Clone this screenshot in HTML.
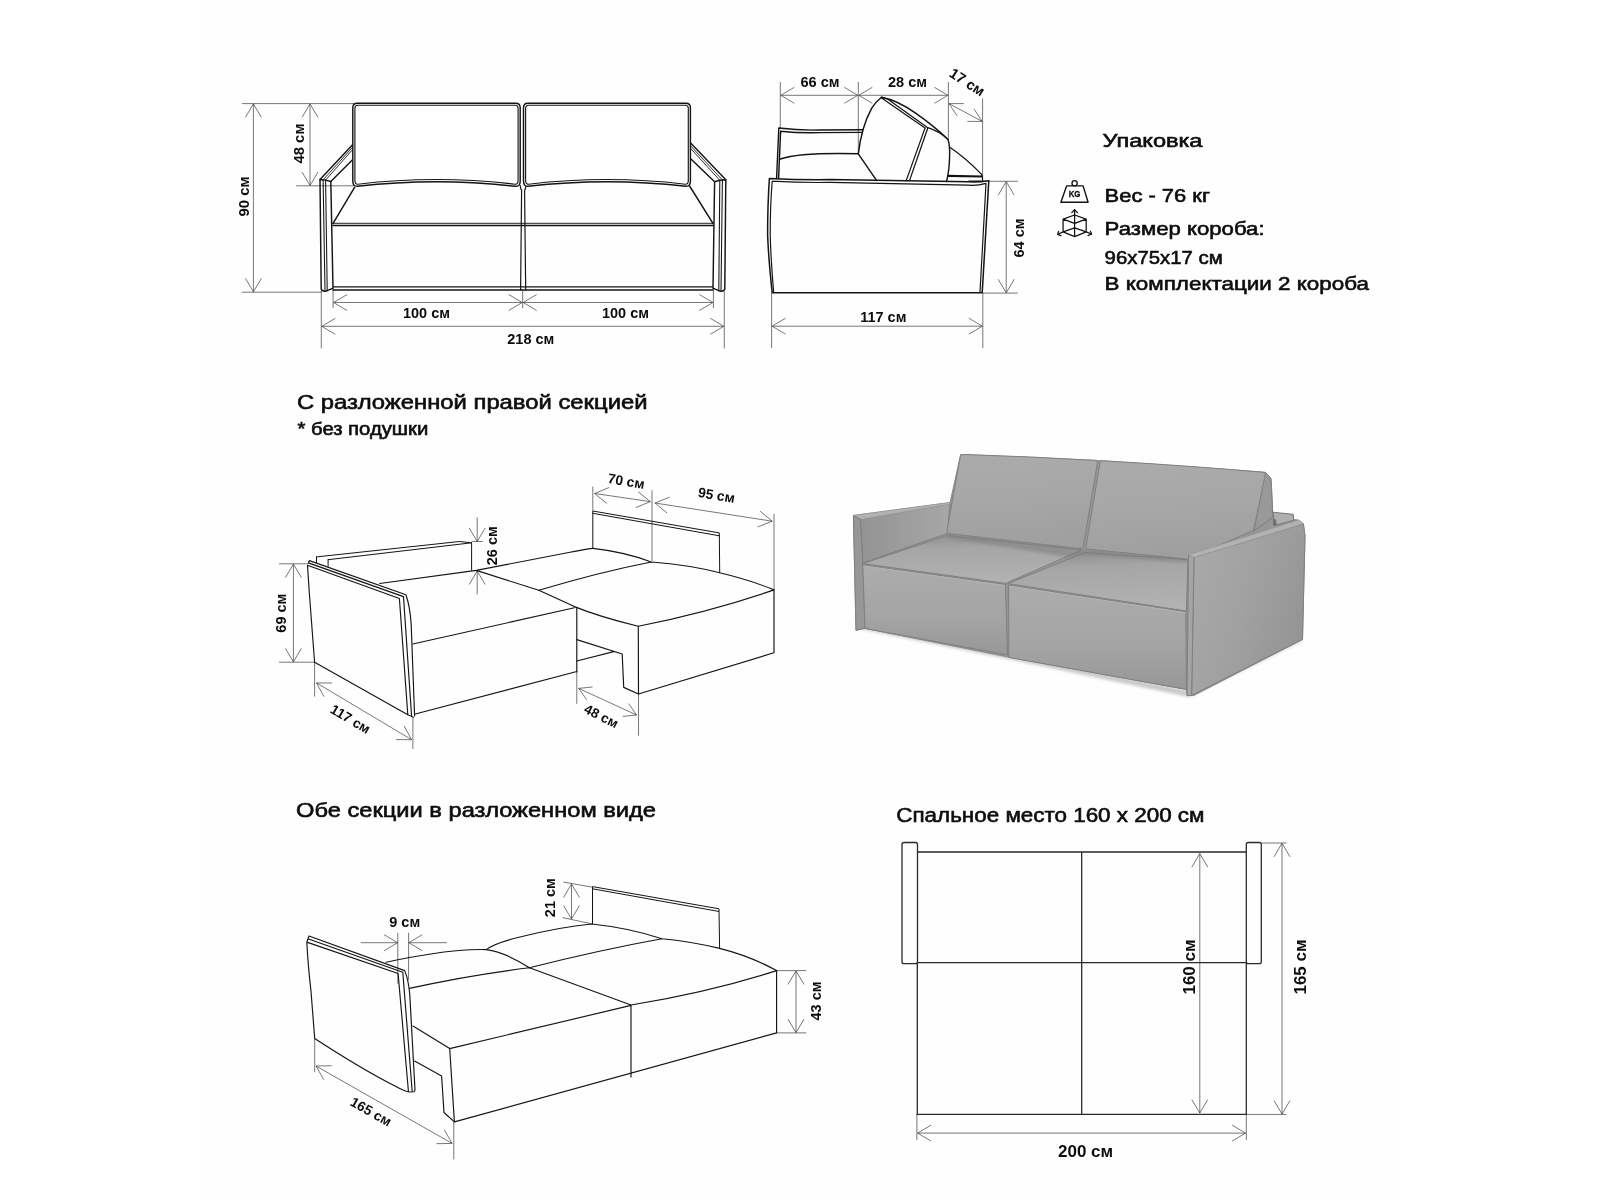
<!DOCTYPE html>
<html><head><meta charset="utf-8"><title>Sofa dimensions</title>
<style>
html,body{margin:0;padding:0;background:#fff;}
body{width:1600px;height:1200px;overflow:hidden;}
svg{display:block;opacity:0.999;will-change:transform;}
text{font-family:"Liberation Sans",sans-serif;fill:#0d0d0d;}
</style></head><body>
<svg width="1600" height="1200" viewBox="0 0 1600 1200">
<rect width="1600" height="1200" fill="#ffffff"/>
<rect x="200" width="1200" height="1200" fill="#fefefe"/>
<g id="front">
<line x1="242" y1="103.6" x2="354" y2="103.6" stroke="#3d3d3d" stroke-width="0.7"/>
<line x1="241.6" y1="292.2" x2="322" y2="292.2" stroke="#3d3d3d" stroke-width="0.7"/>
<line x1="253.4" y1="103.9" x2="253.4" y2="291.8" stroke="#3d3d3d" stroke-width="0.7"/>
<polyline points="245.4,117.4 253.4,103.9 261.4,117.4" fill="none" stroke="#3d3d3d" stroke-width="0.7"/>
<polyline points="261.4,278.3 253.4,291.8 245.4,278.3" fill="none" stroke="#3d3d3d" stroke-width="0.7"/>
<line x1="296" y1="185.8" x2="354" y2="185.8" stroke="#3d3d3d" stroke-width="0.7"/>
<line x1="310" y1="103.9" x2="310" y2="185.5" stroke="#3d3d3d" stroke-width="0.7"/>
<polyline points="302.0,117.4 310.0,103.9 318.0,117.4" fill="none" stroke="#3d3d3d" stroke-width="0.7"/>
<polyline points="318.0,172.0 310.0,185.5 302.0,172.0" fill="none" stroke="#3d3d3d" stroke-width="0.7"/>
<line x1="321.3" y1="291" x2="321.3" y2="348.4" stroke="#3d3d3d" stroke-width="0.7"/>
<line x1="724.3" y1="291" x2="724.3" y2="348.4" stroke="#3d3d3d" stroke-width="0.7"/>
<line x1="333.1" y1="289.5" x2="333.1" y2="308" stroke="#3d3d3d" stroke-width="0.7"/>
<line x1="522.7" y1="289.5" x2="522.7" y2="308" stroke="#3d3d3d" stroke-width="0.7"/>
<line x1="713.4" y1="289.5" x2="713.4" y2="308" stroke="#3d3d3d" stroke-width="0.7"/>
<line x1="333.6" y1="302.5" x2="522.2" y2="302.5" stroke="#3d3d3d" stroke-width="0.7"/>
<polyline points="347.1,310.5 333.6,302.5 347.1,294.5" fill="none" stroke="#3d3d3d" stroke-width="0.7"/>
<polyline points="508.7,294.5 522.2,302.5 508.7,310.5" fill="none" stroke="#3d3d3d" stroke-width="0.7"/>
<line x1="523.2" y1="302.5" x2="712.9" y2="302.5" stroke="#3d3d3d" stroke-width="0.7"/>
<polyline points="536.7,310.5 523.2,302.5 536.7,294.5" fill="none" stroke="#3d3d3d" stroke-width="0.7"/>
<polyline points="699.4,294.5 712.9,302.5 699.4,310.5" fill="none" stroke="#3d3d3d" stroke-width="0.7"/>
<line x1="321.8" y1="326.3" x2="723.8" y2="326.3" stroke="#3d3d3d" stroke-width="0.7"/>
<polyline points="335.3,334.3 321.8,326.3 335.3,318.3" fill="none" stroke="#3d3d3d" stroke-width="0.7"/>
<polyline points="710.3,318.3 723.8,326.3 710.3,334.3" fill="none" stroke="#3d3d3d" stroke-width="0.7"/>
<text x="244" y="196.5" font-size="14.9" font-weight="bold" text-anchor="middle" transform="rotate(-90 244 196.5)" dy="5">90 см</text>
<text x="298.6" y="143.6" font-size="14.9" font-weight="bold" text-anchor="middle" transform="rotate(-90 298.6 143.6)" dy="5">48 см</text>
<text x="426.5" y="317.5" font-size="14.5" font-weight="bold" text-anchor="middle" >100 см</text>
<text x="625.5" y="317.5" font-size="14.5" font-weight="bold" text-anchor="middle" >100 см</text>
<text x="530.8" y="343.7" font-size="14.5" font-weight="bold" text-anchor="middle" >218 см</text>
<path d="M320,179.5 L352.8,144.6 M330.8,181.5 L352.8,159.4" stroke="#141414" stroke-width="1.45" fill="none" stroke-linejoin="round" stroke-linecap="round" />
<path d="M323.1,179.8 L352.8,147 M325.6,180.1 L352.8,149.4" stroke="#141414" stroke-width="0.875" fill="none" stroke-linejoin="round" stroke-linecap="round" />
<path d="M320,179.5 L325.6,180.1 L330.8,181.5 M320,179.5 L321.2,289 Q322,291.6 326,291.2 L332.6,288.4 M330.8,181.5 L333,288.4" stroke="#141414" stroke-width="1.45" fill="none" stroke-linejoin="round" stroke-linecap="round" />
<path d="M323.1,179.8 L325,290.8 M325.6,180.1 L327.2,290.8" stroke="#141414" stroke-width="1.0625" fill="none" stroke-linejoin="round" stroke-linecap="round" />
<path d="M725.8,179.8 L690.4,142.8 M714.6,181.8 L690.4,158.6" stroke="#141414" stroke-width="1.45" fill="none" stroke-linejoin="round" stroke-linecap="round" />
<path d="M722.4,180 L690.4,145.6 M719.8,180.3 L690.4,148.2" stroke="#141414" stroke-width="0.875" fill="none" stroke-linejoin="round" stroke-linecap="round" />
<path d="M725.8,179.8 L719.8,180.3 L714.6,181.8 M725.8,179.8 L724.8,289 Q724,291.6 720,291.2 L713.4,288.4 M714.6,181.8 L713,288.4" stroke="#141414" stroke-width="1.45" fill="none" stroke-linejoin="round" stroke-linecap="round" />
<path d="M722.4,180 L721,290.8 M719.8,180.3 L718.8,290.8" stroke="#141414" stroke-width="1.0625" fill="none" stroke-linejoin="round" stroke-linecap="round" />
<path d="M354.6,187.4 L332.9,223.6 M689.6,186 L713.1,223.6" stroke="#141414" stroke-width="1.45" fill="none" stroke-linejoin="round" stroke-linecap="round" />
<path d="M332.9,223.3 H713.1" stroke="#141414" stroke-width="0.9375" fill="none" stroke-linejoin="round" stroke-linecap="round" />
<path d="M332.9,225.5 H713.1" stroke="#141414" stroke-width="1.3125" fill="none" stroke-linejoin="round" stroke-linecap="round" />
<path d="M333,286.8 H713" stroke="#141414" stroke-width="1.1875" fill="none" stroke-linejoin="round" stroke-linecap="round" />
<path d="M333,290 H713" stroke="#141414" stroke-width="1.3125" fill="none" stroke-linejoin="round" stroke-linecap="round" />
<path d="M520.2,185.6 Q520.6,188.6 521.6,190.6 L521.2,230 L520.6,290 M526,185.6 Q525.6,188.6 524.6,190.6 L525,230 L525.7,290" stroke="#141414" stroke-width="1.1875" fill="none" stroke-linejoin="round" stroke-linecap="round" />
<path d="M357.3,103.2 H515.7 Q520.2,103.2 520.2,107.7 V181.1 Q520.2,186.6 515.7,186.29999999999998 Q436.5,177.0 357.3,186.29999999999998 Q352.8,186.6 352.8,181.1 V107.7 Q352.8,103.2 357.3,103.2 Z" stroke="#141414" stroke-width="1.45" fill="#fff" stroke-linejoin="round" stroke-linecap="round" />
<path d="M357.90000000000003,105.3 H515.1 Q518.1,105.3 518.1,108.3 V180.5 Q518.1,184.5 515.1,184.2 Q436.5,174.9 357.90000000000003,184.2 Q354.90000000000003,184.5 354.90000000000003,180.5 V108.3 Q354.90000000000003,105.3 357.90000000000003,105.3 Z" stroke="#141414" stroke-width="1.125" fill="none" stroke-linejoin="round" stroke-linecap="round" />
<path d="M528.0,103.2 H685.9 Q690.4,103.2 690.4,107.7 V181.1 Q690.4,186.6 685.9,186.29999999999998 Q606.95,177.0 528.0,186.29999999999998 Q523.5,186.6 523.5,181.1 V107.7 Q523.5,103.2 528.0,103.2 Z" stroke="#141414" stroke-width="1.45" fill="#fff" stroke-linejoin="round" stroke-linecap="round" />
<path d="M528.6,105.3 H685.3 Q688.3,105.3 688.3,108.3 V180.5 Q688.3,184.5 685.3,184.2 Q606.95,174.9 528.6,184.2 Q525.6,184.5 525.6,180.5 V108.3 Q525.6,105.3 528.6,105.3 Z" stroke="#141414" stroke-width="1.125" fill="none" stroke-linejoin="round" stroke-linecap="round" />
</g>
<g id="side">
<line x1="780.3" y1="82" x2="780.3" y2="128.4" stroke="#3d3d3d" stroke-width="0.7"/>
<line x1="858.3" y1="82" x2="858.3" y2="153.8" stroke="#3d3d3d" stroke-width="0.7"/>
<line x1="948.4" y1="82" x2="948.4" y2="138.8" stroke="#3d3d3d" stroke-width="0.7"/>
<line x1="982.6" y1="98.4" x2="982.6" y2="175.3" stroke="#3d3d3d" stroke-width="0.7"/>
<line x1="780.8" y1="95.3" x2="857.8" y2="95.3" stroke="#3d3d3d" stroke-width="0.7"/>
<polyline points="794.3,103.3 780.8,95.3 794.3,87.3" fill="none" stroke="#3d3d3d" stroke-width="0.7"/>
<polyline points="844.3,87.3 857.8,95.3 844.3,103.3" fill="none" stroke="#3d3d3d" stroke-width="0.7"/>
<line x1="858.8" y1="95.3" x2="947.9" y2="95.3" stroke="#3d3d3d" stroke-width="0.7"/>
<polyline points="872.3,103.3 858.8,95.3 872.3,87.3" fill="none" stroke="#3d3d3d" stroke-width="0.7"/>
<polyline points="934.4,87.3 947.9,95.3 934.4,103.3" fill="none" stroke="#3d3d3d" stroke-width="0.7"/>
<line x1="949" y1="103.6" x2="982.2" y2="121.4" stroke="#3d3d3d" stroke-width="0.7"/>
<polyline points="957.1,115.9 949.0,103.6 963.8,103.6" fill="none" stroke="#3d3d3d" stroke-width="0.7"/>
<polyline points="974.1,109.1 982.2,121.4 967.4,121.4" fill="none" stroke="#3d3d3d" stroke-width="0.7"/>
<text x="820" y="86.6" font-size="14.5" font-weight="bold" text-anchor="middle" >66 см</text>
<text x="907.5" y="86.6" font-size="14.5" font-weight="bold" text-anchor="middle" >28 см</text>
<text x="967.2" y="82.1" font-size="14.5" font-weight="bold" text-anchor="middle" transform="rotate(33 967.2 82.1)" dy="5">17 см</text>
<line x1="989" y1="181.3" x2="1017.8" y2="181.3" stroke="#3d3d3d" stroke-width="0.7"/>
<line x1="982.4" y1="293.1" x2="1017.8" y2="293.1" stroke="#3d3d3d" stroke-width="0.7"/>
<line x1="1006.2" y1="181.6" x2="1006.2" y2="292.8" stroke="#3d3d3d" stroke-width="0.7"/>
<polyline points="998.2,195.1 1006.2,181.6 1014.2,195.1" fill="none" stroke="#3d3d3d" stroke-width="0.7"/>
<polyline points="1014.2,279.3 1006.2,292.8 998.2,279.3" fill="none" stroke="#3d3d3d" stroke-width="0.7"/>
<text x="1018.8" y="238" font-size="14.5" font-weight="bold" text-anchor="middle" transform="rotate(-90 1018.8 238)" dy="5">64 см</text>
<line x1="771.6" y1="292.8" x2="771.6" y2="348.1" stroke="#3d3d3d" stroke-width="0.7"/>
<line x1="982.8" y1="292.8" x2="982.8" y2="348.1" stroke="#3d3d3d" stroke-width="0.7"/>
<line x1="772.1" y1="326.2" x2="982.3" y2="326.2" stroke="#3d3d3d" stroke-width="0.7"/>
<polyline points="785.6,334.2 772.1,326.2 785.6,318.2" fill="none" stroke="#3d3d3d" stroke-width="0.7"/>
<polyline points="968.8,318.2 982.3,326.2 968.8,334.2" fill="none" stroke="#3d3d3d" stroke-width="0.7"/>
<text x="883.3" y="322.2" font-size="14.5" font-weight="bold" text-anchor="middle" >117 см</text>
<path d="M776.6,178.2 L778.8,128 Q800,130.6 820,130 L862.6,129.8 M780.6,131.2 Q800,133.2 820,132.6 L861.8,132.4 M780.6,131.2 L778.6,178 M780.4,159 Q800,152.4 858.3,153.8" stroke="#141414" stroke-width="1.45" fill="none" stroke-linejoin="round" stroke-linecap="round" />
<path d="M858.3,153.8 Q861.5,127 871.6,108.4 Q876,101.5 881.4,97.2 Q897,100 915.6,113.1 Q934,126 948,139.4 Q950,146 949.6,156 Q949.4,170 946.6,181.4 M858.3,153.8 L876.7,180.6" stroke="#141414" stroke-width="1.45" fill="none" stroke-linejoin="round" stroke-linecap="round" />
<path d="M881.4,97.2 L887.5,99 L927.8,127.7 Q940,131.6 948,139.4 M881.6,98 L925,128.1" stroke="#141414" stroke-width="1.25" fill="none" stroke-linejoin="round" stroke-linecap="round" />
<path d="M927.8,128 L909.5,180.6 M925,128.1 L906.2,180.6" stroke="#141414" stroke-width="1.25" fill="none" stroke-linejoin="round" stroke-linecap="round" />
<path d="M949.4,146.9 Q966,158 981.6,174.4 L982.4,176 L982.6,180.6 M948,175.4 L982.2,176.2 M948,176.4 L982.2,177 M969,181.2 H981" stroke="#141414" stroke-width="1.25" fill="none" stroke-linejoin="round" stroke-linecap="round" />
<path d="M769.4,178.4 Q800,180 830,179.6 L968,181.8 Q978,182.4 988.8,180.8 L982.2,292.8 H772.2 Q768.6,260 767.6,235 Q767.6,205 769.4,178.4 Z" stroke="#141414" stroke-width="1.5" fill="none" stroke-linejoin="round" stroke-linecap="round" />
<path d="M772.2,181.2 Q800,182.8 830,182.4 L968,185.2 Q978,185.8 986,183.4 L980,292 M772.2,181.2 Q770.2,205 770.2,235 Q771,262 773.6,291.6" stroke="#141414" stroke-width="1.1875" fill="none" stroke-linejoin="round" stroke-linecap="round" />
</g>
<g id="pack" font-weight="normal">
<text x="1102.5" y="146.7" font-size="19" textLength="100" lengthAdjust="spacingAndGlyphs" stroke="#0d0d0d" stroke-width="0.6">Упаковка</text>
<text x="1104.6" y="201.8" font-size="19" textLength="105.3" lengthAdjust="spacingAndGlyphs" stroke="#0d0d0d" stroke-width="0.6">Вес - 76 кг</text>
<text x="1104.6" y="234.9" font-size="19" textLength="160" lengthAdjust="spacingAndGlyphs" stroke="#0d0d0d" stroke-width="0.6">Размер короба:</text>
<text x="1104.6" y="264.1" font-size="19" textLength="118.1" lengthAdjust="spacingAndGlyphs" stroke="#0d0d0d" stroke-width="0.6">96х75х17 см</text>
<text x="1104.6" y="290" font-size="19" textLength="264.4" lengthAdjust="spacingAndGlyphs" stroke="#0d0d0d" stroke-width="0.6">В комплектации 2 короба</text>
<path d="M1066.6,185.9 H1083.1 L1088.1,202.2 H1060.9 Z" stroke="#111" stroke-width="1.4" fill="none" stroke-linejoin="round" stroke-linecap="round" />
<circle cx="1074.6" cy="183.2" r="2.6" fill="#fff" stroke="#111" stroke-width="1.3"/>
<text x="1074.6" y="197.4" font-size="8.8" font-weight="bold" text-anchor="middle" textLength="11.8" lengthAdjust="spacingAndGlyphs" stroke="#0d0d0d" stroke-width="0.3">KG</text>
<path d="M1074.6,215 L1086.2,219.1 L1074.6,223.4 L1063.1,219.1 Z M1063.1,219.1 V231.9 L1074.6,236.6 L1086.2,231.9 V219.1 M1074.6,210 V236.6 M1063.1,231.9 L1074.6,227.8 L1086.2,231.9 M1063.1,231.9 L1057.8,234.3 M1086.2,231.9 L1091.4,234" stroke="#111" stroke-width="1.25" fill="none" stroke-linejoin="round" stroke-linecap="round" />
<path d="M1071.8,212.6 L1074.6,209.6 L1077.4,212.6 M1058.6,231.4 L1057.6,234.4 L1061,235.6 M1090.4,231.2 L1091.6,234 L1088,235.6" stroke="#111" stroke-width="1.25" fill="none" stroke-linejoin="round" stroke-linecap="round" />
</g>
<text x="297" y="409.3" font-size="20.1" textLength="350.5" lengthAdjust="spacingAndGlyphs" stroke="#0d0d0d" stroke-width="0.6">С разложенной правой секцией</text>
<text x="297.5" y="435" font-size="17.5" textLength="130.8" lengthAdjust="spacingAndGlyphs" stroke="#0d0d0d" stroke-width="0.6">* без подушки</text>
<text x="296" y="817.2" font-size="20.2" textLength="360" lengthAdjust="spacingAndGlyphs" stroke="#0d0d0d" stroke-width="0.6">Обе секции в разложенном виде</text>
<text x="896.3" y="821.8" font-size="20" textLength="308.2" lengthAdjust="spacingAndGlyphs" stroke="#0d0d0d" stroke-width="0.6">Спальное место 160 х 200 см</text>
<g id="mid">
<line x1="279" y1="563.8" x2="308.4" y2="563.8" stroke="#3d3d3d" stroke-width="0.7"/>
<line x1="279" y1="662.2" x2="315" y2="662.2" stroke="#3d3d3d" stroke-width="0.7"/>
<line x1="293.4" y1="564.1" x2="293.4" y2="661.9" stroke="#3d3d3d" stroke-width="0.7"/>
<polyline points="285.4,577.6 293.4,564.1 301.4,577.6" fill="none" stroke="#3d3d3d" stroke-width="0.7"/>
<polyline points="301.4,648.4 293.4,661.9 285.4,648.4" fill="none" stroke="#3d3d3d" stroke-width="0.7"/>
<text x="281.3" y="613.2" font-size="14.5" font-weight="bold" text-anchor="middle" transform="rotate(-90 281.3 613.2)" dy="5">69 см</text>
<line x1="477.2" y1="517.5" x2="477.2" y2="541.3" stroke="#3d3d3d" stroke-width="0.7"/>
<polyline points="485.2,528.0 477.2,541.5 469.2,528.0" fill="none" stroke="#3d3d3d" stroke-width="0.7"/>
<line x1="471.6" y1="541.5" x2="482.8" y2="541.5" stroke="#3d3d3d" stroke-width="0.7"/>
<line x1="477.2" y1="571.2" x2="477.2" y2="594.4" stroke="#3d3d3d" stroke-width="0.7"/>
<polyline points="469.2,584.5 477.2,571.0 485.2,584.5" fill="none" stroke="#3d3d3d" stroke-width="0.7"/>
<text x="492.2" y="545.8" font-size="14.5" font-weight="bold" text-anchor="middle" transform="rotate(-90 492.2 545.8)" dy="5">26 см</text>
<line x1="592.8" y1="486.6" x2="592.8" y2="511" stroke="#3d3d3d" stroke-width="0.7"/>
<line x1="652" y1="490.3" x2="652" y2="561.6" stroke="#3d3d3d" stroke-width="0.7"/>
<line x1="774" y1="513.8" x2="774" y2="590" stroke="#3d3d3d" stroke-width="0.7"/>
<line x1="594.6" y1="493.5" x2="650.3" y2="501.6" stroke="#3d3d3d" stroke-width="0.7"/>
<polyline points="606.8,503.4 594.6,493.5 609.1,487.5" fill="none" stroke="#3d3d3d" stroke-width="0.7"/>
<polyline points="638.1,491.7 650.3,501.6 635.8,507.6" fill="none" stroke="#3d3d3d" stroke-width="0.7"/>
<line x1="655" y1="503" x2="772.2" y2="521.2" stroke="#3d3d3d" stroke-width="0.7"/>
<polyline points="667.1,513.0 655.0,503.0 669.6,497.2" fill="none" stroke="#3d3d3d" stroke-width="0.7"/>
<polyline points="760.1,511.2 772.2,521.2 757.6,527.0" fill="none" stroke="#3d3d3d" stroke-width="0.7"/>
<text x="626.3" y="481" font-size="13.8" font-weight="bold" text-anchor="middle" transform="rotate(9.5 626.3 481)" dy="5">70 см</text>
<text x="716.5" y="495" font-size="13.8" font-weight="bold" text-anchor="middle" transform="rotate(9.5 716.5 495)" dy="5">95 см</text>
<line x1="314.6" y1="662.2" x2="314.6" y2="696.6" stroke="#3d3d3d" stroke-width="0.7"/>
<line x1="412.9" y1="717" x2="412.9" y2="749" stroke="#3d3d3d" stroke-width="0.7"/>
<line x1="316.5" y1="682.9" x2="411.6" y2="739.7" stroke="#3d3d3d" stroke-width="0.7"/>
<polyline points="324.0,696.7 316.5,682.9 332.2,683.0" fill="none" stroke="#3d3d3d" stroke-width="0.7"/>
<polyline points="404.1,725.9 411.6,739.7 395.9,739.6" fill="none" stroke="#3d3d3d" stroke-width="0.7"/>
<text x="350.5" y="719" font-size="13.7" font-weight="bold" text-anchor="middle" transform="rotate(30.8 350.5 719)" dy="4.8">117 см</text>
<line x1="576.8" y1="672" x2="576.8" y2="703.8" stroke="#3d3d3d" stroke-width="0.7"/>
<line x1="638.5" y1="694" x2="638.5" y2="735.6" stroke="#3d3d3d" stroke-width="0.7"/>
<line x1="578.7" y1="688.4" x2="636.6" y2="715" stroke="#3d3d3d" stroke-width="0.7"/>
<polyline points="586.7,699.8 578.7,688.4 592.5,687.0" fill="none" stroke="#3d3d3d" stroke-width="0.7"/>
<polyline points="628.6,703.6 636.6,715.0 622.8,716.4" fill="none" stroke="#3d3d3d" stroke-width="0.7"/>
<text x="601.4" y="716" font-size="13.5" font-weight="bold" text-anchor="middle" transform="rotate(27 601.4 716)" dy="4.8">48 см</text>
<path d="M316.5,556.9 L459.4,541.5 L471.6,542.8 M328.1,559.7 L471.6,542.8 V570.2 M316.5,556.9 V562.6 M328.1,559.7 V566.4" stroke="#141414" stroke-width="1.0" fill="none" stroke-linejoin="round" stroke-linecap="round" />
<path d="M309.4,560.6 L405.9,594.7 Q410,606 411.2,625 L414.6,716 M308.4,562.9 L403.5,596.6 L411.6,716.4 M307.5,565.3 L399.4,598.5 L407.8,714.8 M307.5,565.3 Q309,590 311,615 L314.6,662.2 L407.8,714.8 L413.4,717.2 M308.4,562.9 L309.4,560.6" stroke="#141414" stroke-width="1.15" fill="none" stroke-linejoin="round" stroke-linecap="round" />
<path d="M379.7,583.5 L476.3,570.4 L570,552.2 Q590,548.4 592.8,548.4 M412.8,644 L574.4,607.8 M476.3,570.4 L538.8,590.3 L574.4,606.6 M415.3,714 L576.8,671.5" stroke="#141414" stroke-width="1.15" fill="none" stroke-linejoin="round" stroke-linecap="round" />
<path d="M538.8,590.3 Q600,572 651.3,562 M592.8,548.4 Q625,552 651.3,562 Q690,565 719.7,572.8 Q750,580 774,589.9 Q710,612 638.3,626.2 Q600,617 574.4,606.6" stroke="#141414" stroke-width="1.15" fill="none" stroke-linejoin="round" stroke-linecap="round" />
<path d="M638.3,626.2 L638.5,694 L774,652.8 V589.9 M576.8,607.6 V672" stroke="#141414" stroke-width="1.15" fill="none" stroke-linejoin="round" stroke-linecap="round" />
<path d="M576.8,639.6 L622.2,654 L623.7,687.4 L638.5,694 M576.8,661 L613.8,651.6" stroke="#141414" stroke-width="1.15" fill="none" stroke-linejoin="round" stroke-linecap="round" />
<path d="M592.8,548.4 V511 L719.3,532.9 L719.7,572.8 M592.8,513.3 L719.3,535.8" stroke="#141414" stroke-width="1.0" fill="none" stroke-linejoin="round" stroke-linecap="round" />
</g>
<g id="bl">
<line x1="397.8" y1="932.8" x2="397.8" y2="983.8" stroke="#3d3d3d" stroke-width="0.7"/>
<line x1="408.6" y1="932.8" x2="408.6" y2="980" stroke="#3d3d3d" stroke-width="0.7"/>
<line x1="360.6" y1="942.7" x2="397.4" y2="942.7" stroke="#3d3d3d" stroke-width="0.7"/>
<polyline points="384.1,934.7 397.6,942.7 384.1,950.7" fill="none" stroke="#3d3d3d" stroke-width="0.7"/>
<line x1="409" y1="942.7" x2="446.9" y2="942.7" stroke="#3d3d3d" stroke-width="0.7"/>
<polyline points="422.3,950.7 408.8,942.7 422.3,934.7" fill="none" stroke="#3d3d3d" stroke-width="0.7"/>
<text x="404.7" y="926.6" font-size="14.5" font-weight="bold" text-anchor="middle" >9 см</text>
<line x1="563.4" y1="882.1" x2="592.5" y2="887.2" stroke="#3d3d3d" stroke-width="0.7"/>
<line x1="562.5" y1="917.6" x2="591.6" y2="923.8" stroke="#3d3d3d" stroke-width="0.7"/>
<line x1="571.5" y1="884" x2="571.5" y2="919" stroke="#3d3d3d" stroke-width="0.7"/>
<polyline points="563.5,897.5 571.5,884.0 579.5,897.5" fill="none" stroke="#3d3d3d" stroke-width="0.7"/>
<polyline points="579.5,905.5 571.5,919.0 563.5,905.5" fill="none" stroke="#3d3d3d" stroke-width="0.7"/>
<text x="550.3" y="897.7" font-size="14.5" font-weight="bold" text-anchor="middle" transform="rotate(-90 550.3 897.7)" dy="5">21 см</text>
<line x1="776.6" y1="970.6" x2="806.3" y2="970.6" stroke="#3d3d3d" stroke-width="0.7"/>
<line x1="776.6" y1="1032.9" x2="806.3" y2="1032.9" stroke="#3d3d3d" stroke-width="0.7"/>
<line x1="796" y1="970.9" x2="796" y2="1032.6" stroke="#3d3d3d" stroke-width="0.7"/>
<polyline points="788.0,984.4 796.0,970.9 804.0,984.4" fill="none" stroke="#3d3d3d" stroke-width="0.7"/>
<polyline points="804.0,1019.1 796.0,1032.6 788.0,1019.1" fill="none" stroke="#3d3d3d" stroke-width="0.7"/>
<text x="815.6" y="1001" font-size="14.5" font-weight="bold" text-anchor="middle" transform="rotate(-90 815.6 1001)" dy="5">43 см</text>
<line x1="314.7" y1="1038.4" x2="314.7" y2="1072.2" stroke="#3d3d3d" stroke-width="0.7"/>
<line x1="453.8" y1="1122" x2="453.8" y2="1159.4" stroke="#3d3d3d" stroke-width="0.7"/>
<line x1="316" y1="1066" x2="452.1" y2="1143.4" stroke="#3d3d3d" stroke-width="0.7"/>
<polyline points="323.8,1079.6 316.0,1066.0 331.7,1065.7" fill="none" stroke="#3d3d3d" stroke-width="0.7"/>
<polyline points="444.3,1129.8 452.1,1143.4 436.4,1143.7" fill="none" stroke="#3d3d3d" stroke-width="0.7"/>
<text x="371" y="1111.6" font-size="13.8" font-weight="bold" text-anchor="middle" transform="rotate(29.6 371 1111.6)" dy="4.8">165 см</text>
<path d="M309,936 L404.7,970.6 Q408.6,980 409.8,995 L415,1090 M307.8,938.8 L402.8,972.2 L412.2,1091.6 M306.8,942.1 L398.1,973.5 L408.4,1091 M306.8,942.1 Q308,965 311,991.3 L314.7,1038.4 Q360,1068 395,1086 Q405,1091.6 409.4,1092 L414,1091.8 L415,1090 M306.8,942.1 L309,936" stroke="#141414" stroke-width="1.15" fill="none" stroke-linejoin="round" stroke-linecap="round" />
<path d="M386,962.2 Q440,951 470,949.8 Q480,949.4 486.3,949.6 Q505,952 529.4,967.8 M409.4,988.4 Q470,975 529.4,967.8 M413,1026 L449.7,1048.6" stroke="#141414" stroke-width="1.15" fill="none" stroke-linejoin="round" stroke-linecap="round" />
<path d="M486.3,949.6 Q495,943 520,937 Q560,927 591.6,924 Q630,928 661.9,938.8 Q690,941.4 719.6,948.4 Q750,956 776.6,970.6 Q710,992 631,1005 L529.4,967.8 M529.4,967.8 Q600,950 661.9,938.8" stroke="#141414" stroke-width="1.15" fill="none" stroke-linejoin="round" stroke-linecap="round" />
<path d="M449.7,1048.6 L631,1005.4 M631,1005 V1077 M776.6,970.6 V1032.9 L454.4,1121.9 L449.7,1048.6" stroke="#141414" stroke-width="1.15" fill="none" stroke-linejoin="round" stroke-linecap="round" />
<path d="M414.6,1061 L441.6,1076 L444,1112.5 L454.4,1121.9" stroke="#141414" stroke-width="1.15" fill="none" stroke-linejoin="round" stroke-linecap="round" />
<path d="M592.5,923.8 V886.6 L719,908.8 L719.6,948.2 M592.5,888.8 L718.6,911.4" stroke="#141414" stroke-width="1.0" fill="none" stroke-linejoin="round" stroke-linecap="round" />
</g>
<g id="br">
<line x1="1261.3" y1="843" x2="1286.5" y2="843" stroke="#3d3d3d" stroke-width="0.7"/>
<line x1="1246.3" y1="1114.4" x2="1286.3" y2="1114.4" stroke="#3d3d3d" stroke-width="0.7"/>
<line x1="1282" y1="843.3" x2="1282" y2="1114.1" stroke="#3d3d3d" stroke-width="0.7"/>
<polyline points="1274.0,856.8 1282.0,843.3 1290.0,856.8" fill="none" stroke="#3d3d3d" stroke-width="0.7"/>
<polyline points="1290.0,1100.6 1282.0,1114.1 1274.0,1100.6" fill="none" stroke="#3d3d3d" stroke-width="0.7"/>
<line x1="1199.8" y1="853.6" x2="1199.8" y2="1113" stroke="#3d3d3d" stroke-width="0.7"/>
<polyline points="1191.8,867.1 1199.8,853.6 1207.8,867.1" fill="none" stroke="#3d3d3d" stroke-width="0.7"/>
<polyline points="1207.8,1099.5 1199.8,1113.0 1191.8,1099.5" fill="none" stroke="#3d3d3d" stroke-width="0.7"/>
<line x1="916.9" y1="1114.4" x2="916.9" y2="1140" stroke="#3d3d3d" stroke-width="0.7"/>
<line x1="1246.3" y1="1114.4" x2="1246.3" y2="1140" stroke="#3d3d3d" stroke-width="0.7"/>
<line x1="917.6" y1="1133.1" x2="1245.6" y2="1133.1" stroke="#3d3d3d" stroke-width="0.7"/>
<polyline points="931.1,1141.1 917.6,1133.1 931.1,1125.1" fill="none" stroke="#3d3d3d" stroke-width="0.7"/>
<polyline points="1232.1,1125.1 1245.6,1133.1 1232.1,1141.1" fill="none" stroke="#3d3d3d" stroke-width="0.7"/>
<text x="1085.6" y="1156.6" font-size="17" font-weight="bold" text-anchor="middle" >200 см</text>
<text x="1189.4" y="967" font-size="17" font-weight="bold" text-anchor="middle" transform="rotate(-90 1189.4 967)" dy="6">160 см</text>
<text x="1299.5" y="967" font-size="17" font-weight="bold" text-anchor="middle" transform="rotate(-90 1299.5 967)" dy="6">165 см</text>
<path d="M917.5,852 H1246.3 M917.5,962.6 H1246.3 M916.9,1114.4 H1246.3 M917.3,962.6 V1114.4 M1246.3,962.6 V1114.4 M1081.7,852 V1114.4" stroke="#2a2a2a" stroke-width="1.3" fill="none" stroke-linejoin="round" stroke-linecap="round" />
<rect x="902" y="842.5" width="15.5" height="121.2" rx="2" fill="none" stroke="#2a2a2a" stroke-width="1.3"/>
<rect x="1246.3" y="842.5" width="15" height="121.2" rx="2" fill="none" stroke="#2a2a2a" stroke-width="1.3"/>
</g>
<defs>
<linearGradient id="gBack" x1="0" y1="0" x2="0.15" y2="1"><stop offset="0" stop-color="#ababab"/><stop offset="0.5" stop-color="#a7a7a7"/><stop offset="1" stop-color="#9f9f9f"/></linearGradient>
<linearGradient id="gSeatTop" x1="0.3" y1="0" x2="0.45" y2="1"><stop offset="0" stop-color="#919191"/><stop offset="0.28" stop-color="#a6a6a6"/><stop offset="1" stop-color="#b2b2b2"/></linearGradient>
<linearGradient id="gFront" x1="0" y1="0" x2="0" y2="1"><stop offset="0" stop-color="#acacac"/><stop offset="0.6" stop-color="#a4a4a4"/><stop offset="1" stop-color="#979797"/></linearGradient>
<linearGradient id="gArmR" x1="0" y1="0" x2="1" y2="0.5"><stop offset="0" stop-color="#aaaaaa"/><stop offset="0.55" stop-color="#a1a1a1"/><stop offset="1" stop-color="#959595"/></linearGradient>
<linearGradient id="gArmL" x1="0" y1="0" x2="1" y2="0"><stop offset="0" stop-color="#939393"/><stop offset="1" stop-color="#a7a7a7"/></linearGradient>
<filter id="soft" x="-5%" y="-5%" width="110%" height="110%"><feGaussianBlur stdDeviation="0.5"/></filter>
<filter id="soft2" x="-10%" y="-30%" width="120%" height="160%"><feGaussianBlur stdDeviation="1.6"/></filter>
</defs>
<g id="photo">
<path d="M860,629 L1008,659 L1189,697 L1302,641 L1301,636 L1190,691 L1008,653 L866,625 Z" fill="#c9c9c9" filter="url(#soft2)"/>
<g filter="url(#soft)">
<path d="M853.4,515.4 L950,502.6 L960.6,454.4 L1097,460.4 L1100.5,460.6 L1265,472.2 L1271.2,478.5 L1272.8,513 L1293.4,514.7 L1293.6,519.6 L1298.8,520 L1303.4,523.8 L1305,536.2 L1302.5,639.4 L1194,695.4 L1187.2,695.6 L1186.2,689.4 L1008.2,657 L865,628.4 L856,630.4 Z" fill="#969696" stroke="#808080" stroke-width="0.8" stroke-linejoin="round"/>
<path d="M1265,472.4 Q1269.6,474.6 1271.2,483 L1272.8,517 L1254,531 Z" fill="#999999" stroke="#808080" stroke-width="1.0" stroke-linejoin="round"/>
<path d="M1272.8,512.2 L1293,514.3 L1293.8,520.2 L1274.7,525.4 Z" fill="#afafaf" stroke="#707070" stroke-width="0.9" stroke-linejoin="round"/>
<path d="M1273,519 L1276,519.6 L1276.6,525 L1273.4,526 Z" fill="#6e6e6e"/>
<path d="M860.4,519.2 L950,503.8 L947.2,533.4 L862.8,563 Z" fill="url(#gArmL)" stroke="#808080" stroke-width="1.0" stroke-linejoin="round"/>
<path d="M853.4,515.4 L950,502.4 L950,504.2 L860.6,519.4 Z" fill="#b2b2b2" stroke="#959595" stroke-width="0.6" stroke-linejoin="round"/>
<path d="M853.4,515.6 L860.4,519.2 L862.8,563 L865,627.6 L856,630.4 Z" fill="#979797" stroke="#808080" stroke-width="1.0" stroke-linejoin="round"/>
<path d="M862.8,563.6 L947.4,535.4 L1081,550.2 L1005.6,583.4 Z" fill="url(#gSeatTop)" stroke="#808080" stroke-width="1.0" stroke-linejoin="round"/>
<path d="M1008,583.6 L1085,552.4 L1188,559.8 L1186.4,611 Z" fill="url(#gSeatTop)" stroke="#808080" stroke-width="1.0" stroke-linejoin="round"/>
<path d="M947.4,534.6 L1082,549.6 L1086,550 L1188,560 L1188,563 L1084,554.6 L1070,557.4 L947,538 Z" fill="#7d7d7d" opacity="0.55" filter="url(#soft2)"/>
<path d="M963.4,454.5 Q960.9,454.4 960.3,456.8 L947,530.6 Q946.6,533.3 949.4,533.6 L1080.2,548.7 Q1082.8,549 1083.3,546.4 L1097.4,463.2 Q1097.8,460.6 1095.2,460.4 Q1030,456.4 963.4,454.5 Z" fill="url(#gBack)" stroke="#808080" stroke-width="1.0" stroke-linejoin="round"/>
<path d="M1102.6,460.8 Q1100.5,460.6 1100,463 L1086,546.4 Q1085.6,549 1088.4,549.2 L1188,559.2 L1253.6,530.2 L1265.2,475 Q1265.6,472.4 1263,472.2 Q1180,465 1102.6,460.8 Z" fill="url(#gBack)" stroke="#808080" stroke-width="1.0" stroke-linejoin="round"/>
<path d="M862.8,565 L1005.4,584.6 L1007.6,655 L865,628.4 Z" fill="url(#gFront)" stroke="#808080" stroke-width="1.0" stroke-linejoin="round"/>
<path d="M1008.6,585.2 L1185.8,611.8 L1186.4,689.4 L1008.8,657.4 Z" fill="url(#gFront)" stroke="#808080" stroke-width="1.0" stroke-linejoin="round"/>
<path d="M863.4,565.9 L1005.2,585.5 M1009,586.1 L1185.6,612.7" stroke="#b7b7b7" stroke-width="0.8" fill="none"/>
<path d="M1194,557.4 L1303.4,523.8 L1305,536.2 L1302.5,639.4 L1191.6,695.4 Z" fill="url(#gArmR)" stroke="#808080" stroke-width="1.0" stroke-linejoin="round"/>
<path d="M1188.6,555 L1194,557.4 L1191.6,695.4 L1187,695.6 Z" fill="#a5a5a5" stroke="#808080" stroke-width="1.0" stroke-linejoin="round"/>
<path d="M1188.6,554.8 L1298.8,520 L1303.4,523.8 L1194,557.6 Z" fill="#b2b2b2" stroke="#959595" stroke-width="0.6" stroke-linejoin="round"/>
</g></g>
</svg>
</body></html>
